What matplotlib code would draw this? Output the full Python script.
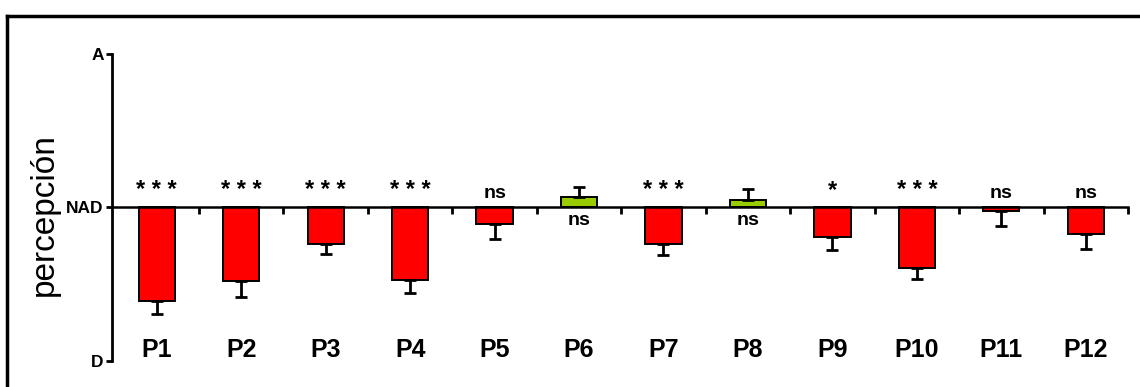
import matplotlib
matplotlib.use("Agg")
import matplotlib.pyplot as plt
from matplotlib.lines import Line2D
from matplotlib.ticker import FixedLocator

# Perception scores per item (A = +1, NAD = 0, D = -1)
items = ["P1", "P2", "P3", "P4", "P5", "P6", "P7", "P8", "P9", "P10", "P11", "P12"]
means = [-0.61, -0.48, -0.235, -0.475, -0.105, 0.07, -0.24, 0.05, -0.19, -0.395, -0.02, -0.17]
sems = [0.085, 0.105, 0.07, 0.08, 0.10, 0.065, 0.07, 0.07, 0.085, 0.07, 0.10, 0.10]
signif = ["***", "***", "***", "***", "ns", "ns", "***", "ns", "*", "***", "ns", "ns"]
scale_labels = ["D", "NAD", "A"]
scale_values = [-1, 0, 1]

plt.rcParams["font.family"] = ["Liberation Sans", "DejaVu Sans"]

fig = plt.figure(figsize=(11.4, 3.87), dpi=100)
ax = fig.add_axes([112 / 1140, 1 - 361 / 387, (1128 - 112) / 1140, (361 - 54) / 387])

x = list(range(len(items)))
colors = ["#99cc00" if m > 0 else "#ff0000" for m in means]
ax.bar(x, means, width=0.43, color=colors, edgecolor="black", linewidth=1.4, zorder=2)

# one-sided error bars pointing away from zero
lower = [s if m < 0 else 0 for m, s in zip(means, sems)]
upper = [s if m > 0 else 0 for m, s in zip(means, sems)]
ax.errorbar(x, means, yerr=[lower, upper], fmt="none", ecolor="black",
            elinewidth=2, capsize=4.3, capthick=2, zorder=3)

# significance marks
for xi, m, s in zip(x, means, signif):
    stars = s.startswith("*")
    txt = " ".join(s) if stars else s
    fs = 17 if stars else 14
    if m > 0:
        ax.text(xi, -0.03, txt, ha="center", va="top", fontsize=fs,
                fontweight="bold", zorder=4)
    else:
        ax.text(xi, 0.035, txt, ha="center", va="bottom", fontsize=fs,
                fontweight="bold", zorder=4)

# category labels
for xi, name in zip(x, items):
    ax.text(xi, -0.93, name, ha="center", va="center", fontsize=18, fontweight="bold")

ax.set_xlim(-0.53, 11.5)
ax.set_ylim(-1, 1)

for side in ("top", "right"):
    ax.spines[side].set_visible(False)
ax.spines["left"].set_linewidth(2)
ax.spines["left"].set_bounds(-1, 1)
ax.spines["bottom"].set_position(("data", 0))
ax.spines["bottom"].set_linewidth(1.8)
ax.spines["bottom"].set_bounds(-0.53, 11.5)

ax.yaxis.set_major_locator(FixedLocator(scale_values))
ax.set_yticklabels(scale_labels, fontsize=12.5, fontweight="bold")
ax.tick_params(axis="y", direction="out", length=4, width=2, pad=2)

ax.xaxis.set_major_locator(FixedLocator([i + 0.5 for i in range(len(items))]))
ax.set_xticklabels([])
ax.tick_params(axis="x", direction="out", length=5, width=2)

ax.set_ylabel("percepción", fontsize=24)
ax.yaxis.set_label_coords((60 - 112) / 1016, (361 - 215) / 307)

# outer frame (left and top edges)
fig.add_artist(Line2D([7 / 1140, 7 / 1140], [0, 1 - 16 / 387], transform=fig.transFigure,
                      color="black", linewidth=2.5))
fig.add_artist(Line2D([7 / 1140, 1], [1 - 16 / 387, 1 - 16 / 387], transform=fig.transFigure,
                      color="black", linewidth=2.5))

fig.savefig("out.png", dpi=100)
